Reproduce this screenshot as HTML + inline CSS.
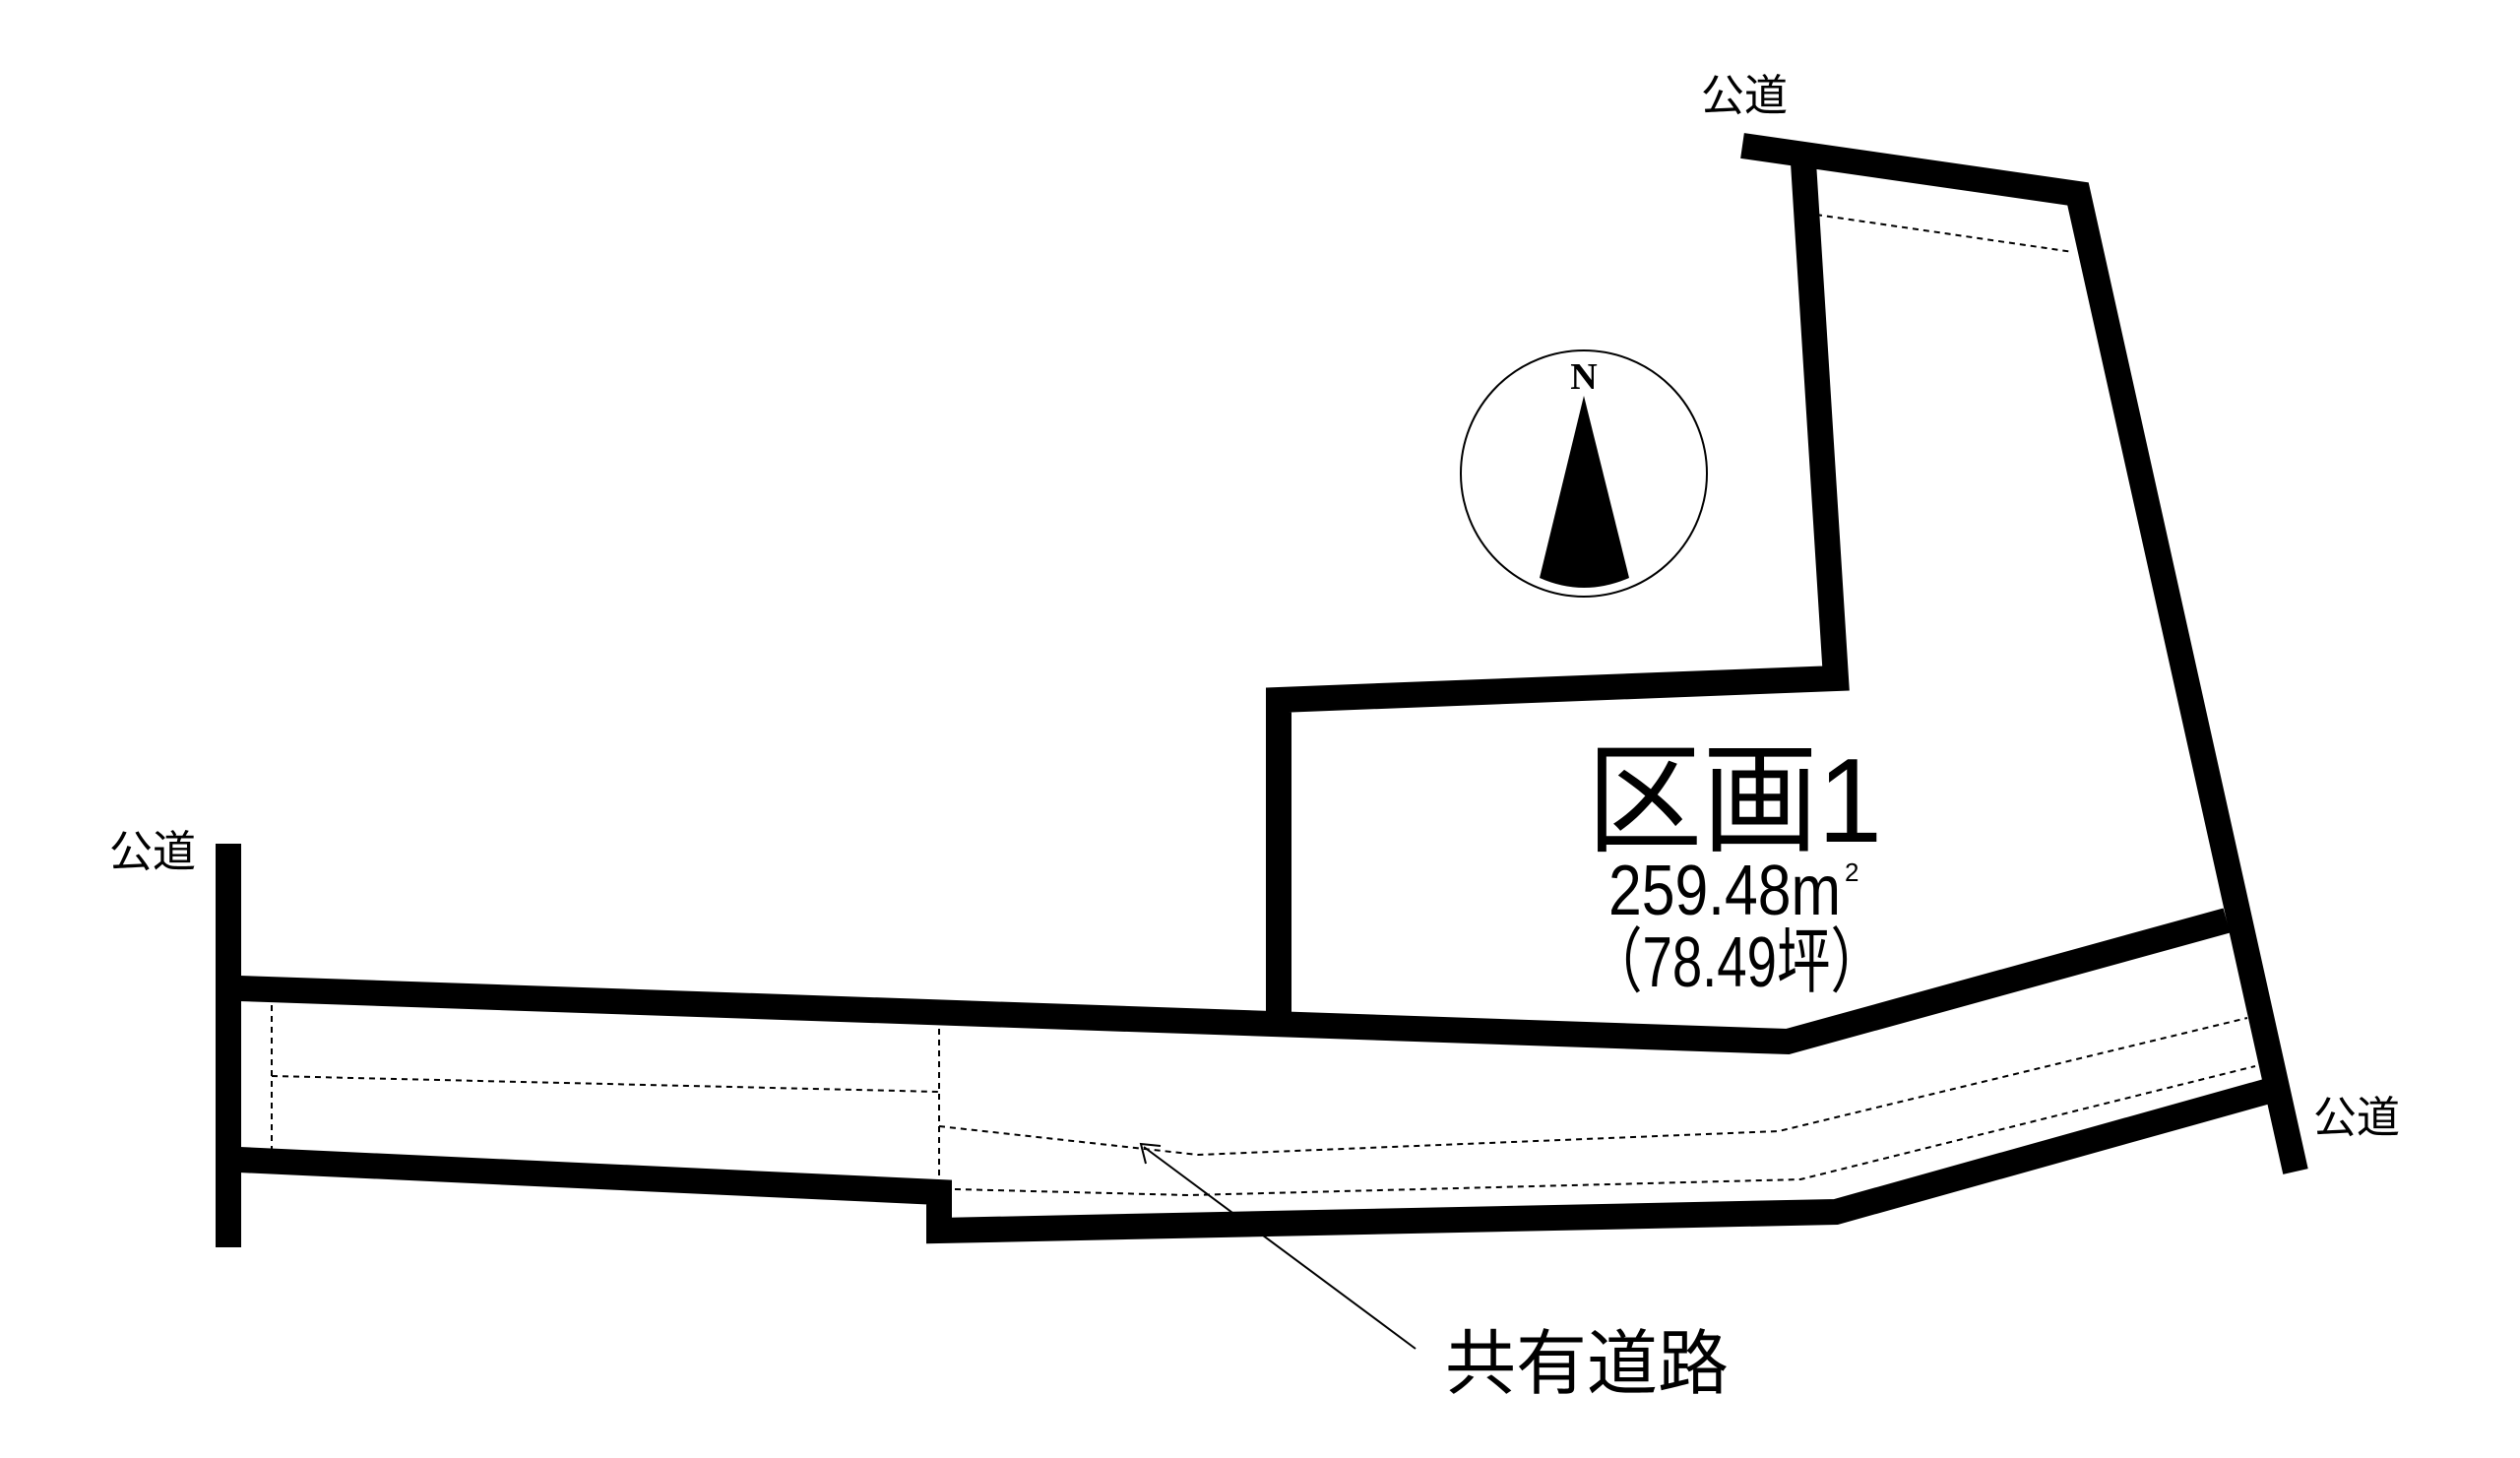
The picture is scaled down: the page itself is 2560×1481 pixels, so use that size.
<!DOCTYPE html>
<html><head><meta charset="utf-8"><style>
html,body{margin:0;padding:0;background:#fff;}
svg{display:block;}
text{font-family:"Liberation Sans","Noto Sans CJK JP",sans-serif;fill:#000;}
</style></head><body>
<svg width="2560" height="1481" viewBox="0 0 2560 1481" xmlns="http://www.w3.org/2000/svg">
<g transform="translate(-6,0)">
<g stroke="#000" stroke-width="26" fill="none" stroke-linejoin="miter" stroke-linecap="butt">
<polyline points="1776,148 2117,197 2338,1190"/>
<polyline points="1838,165 1871,689 1305,711 1305,1037"/>
<polyline points="249,1004 1822,1058 2268,935"/>
<polyline points="249,1178 960,1211 960,1250 1871,1231 2311,1108"/>
<line x1="238" y1="857" x2="238" y2="1267"/>
</g>
<g stroke="#000" stroke-width="2" stroke-dasharray="6,5" fill="none">
<line x1="1851" y1="218" x2="2112" y2="256"/>
<line x1="282" y1="1021" x2="282" y2="1168"/>
<line x1="282" y1="1093" x2="960" y2="1109"/>
<line x1="960" y1="1045" x2="960" y2="1214"/>
<polyline points="960,1144 1223,1173 1813,1149 2289,1034"/>
<polyline points="976,1208 1214,1214 1835,1198 2297,1083"/>
</g>
<line x1="1444" y1="1370" x2="1168" y2="1165" stroke="#000" stroke-width="2"/>
<polyline points="1170,1182 1165,1162 1185,1164" stroke="#000" stroke-width="2" fill="none"/>
<circle cx="1615" cy="481" r="125" stroke="#000" stroke-width="2" fill="none"/>
<path d="M1615,402 L1570,587 Q1615,607 1661,587 Z" fill="#000"/>
<text x="1615" y="395" font-weight="bold" font-size="38" text-anchor="middle" style="font-family:'Liberation Serif',serif">N</text>
<text x="1618" y="855" font-size="122" textLength="300" lengthAdjust="spacingAndGlyphs">区画1</text>
<text x="1640" y="929" font-size="72" textLength="236" lengthAdjust="spacingAndGlyphs">259.48m</text>
<text x="1880" y="895" font-size="26">2</text>
<text x="1620" y="1002" font-size="72" textLength="300" lengthAdjust="spacingAndGlyphs">（78.49坪）</text>
<text x="1734" y="112" font-size="44">公道</text>
<text x="117" y="880" font-size="44">公道</text>
<text x="2356" y="1150" font-size="44">公道</text>
<text x="1474" y="1410" font-size="72">共有道路</text>
</g>
</svg>
</body></html>
